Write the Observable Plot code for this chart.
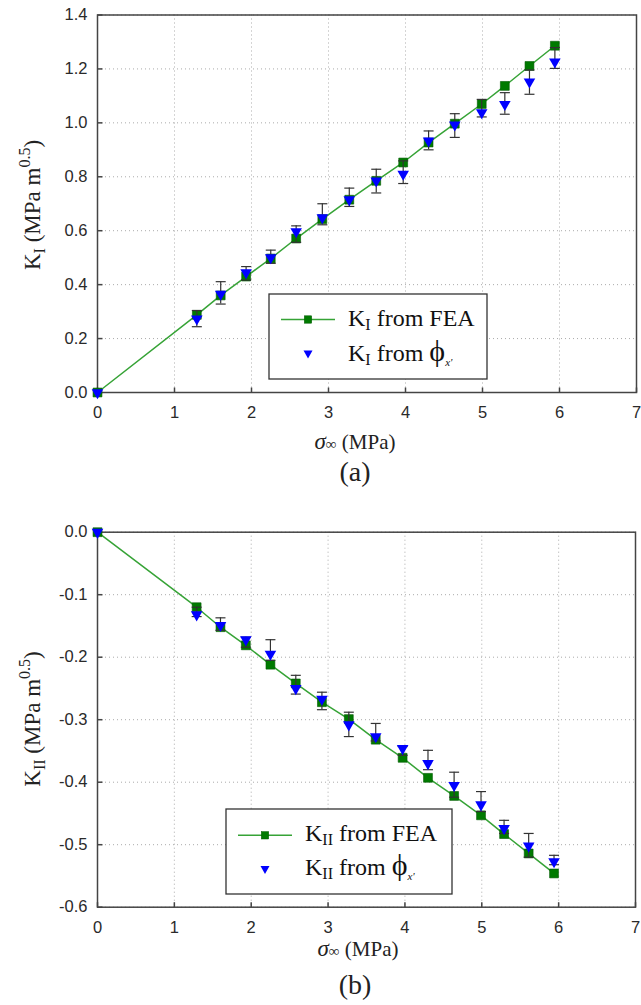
<!DOCTYPE html>
<html><head><meta charset="utf-8">
<script src="https://cdn.jsdelivr.net/npm/d3@7"></script>
<script src="https://cdn.jsdelivr.net/npm/@observablehq/plot@0.6"></script>
<style>body{margin:0;background:#fff} svg{display:block}</style>
</head><body><div id="chart"></div>
<script>
const sigma = [0, 1.29, 1.60, 1.93, 2.25, 2.58, 2.92, 3.27, 3.62, 3.97, 4.30, 4.64, 4.99, 5.29, 5.61, 5.94];
const kIFea = [0, 0.288, 0.36, 0.43, 0.497, 0.571, 0.643, 0.715, 0.785, 0.853, 0.927, 0.997, 1.07, 1.137, 1.211, 1.286];
const kIPhi = [0, 0.273, 0.365, 0.445, 0.50, 0.597, 0.649, 0.715, 0.785, 0.81, 0.933, 0.993, 1.038, 1.069, 1.152, 1.226];
const kIPhiLo = [null, 0.244, 0.328, 0.417, 0.479, 0.557, 0.622, 0.69, 0.74, 0.775, 0.9, 0.946, 1.022, 1.032, 1.106, 1.202];
const kIPhiHi = [null, 0.304, 0.411, 0.467, 0.528, 0.618, 0.70, 0.758, 0.828, 0.859, 0.970, 1.034, 1.087, 1.112, 1.196, 1.279];
const kIIFea = [0, -0.12, -0.152, -0.181, -0.212, -0.242, -0.272, -0.299, -0.332, -0.361, -0.393, -0.422, -0.453, -0.483, -0.514, -0.546];
const kIIPhi = [0, -0.132, -0.149, -0.172, -0.195, -0.25, -0.267, -0.308, -0.327, -0.346, -0.37, -0.405, -0.436, -0.474, -0.502, -0.527];
const kIIPhiLo = [null, -0.135, -0.157, -0.184, -0.205, -0.259, -0.284, -0.327, -0.334, -0.357, -0.38, -0.424, -0.447, -0.482, -0.52, -0.532];
const kIIPhiHi = [null, -0.12, -0.137, -0.168, -0.172, -0.229, -0.256, -0.288, -0.306, -0.343, -0.349, -0.384, -0.415, -0.461, -0.482, -0.517];
const xTicks = [0, 1, 2, 3, 4, 5, 6, 7];
const yTicksA = [0, 0.2, 0.4, 0.6, 0.8, 1.0, 1.2, 1.4];
const yTicksB = [-0.6, -0.5, -0.4, -0.3, -0.2, -0.1, 0];

const SERIF = "'Times New Roman', 'Liberation Serif', serif";
const SANS = "Arial, 'Liberation Sans', sans-serif";
const vtick = {draw(c){ c.moveTo(0,0); c.lineTo(0,-5); }};
const htick = {draw(c){ c.moveTo(0,0); c.lineTo(5,0); }};
const cap = {draw(c){ c.moveTo(-5,0); c.lineTo(5,0); }};

function panel(o) {
  const data = sigma.map((s, i) => ({s, fea: o.fea[i], phi: o.phi[i], lo: o.lo[i], hi: o.hi[i]}));
  const err = data.filter(d => d.lo != null);
  return Plot.plot({
    width: 641, height: o.height,
    marginTop: o.marginTop, marginBottom: o.marginBottom, marginLeft: 97, marginRight: o.marginRight,
    style: {fontFamily: SANS, fontSize: "16.5px", color: "#2a2a2a", background: "#fff"},
    x: {domain: [0, 7]},
    y: {domain: o.yDomain},
    marks: [
      Plot.gridX(xTicks, {stroke: "#aaa", strokeOpacity: 1, strokeDasharray: "1,3"}),
      Plot.gridY(o.yTicks, {stroke: "#aaa", strokeOpacity: 1, strokeDasharray: "1,3"}),
      Plot.dot(xTicks, {x: d => d, frameAnchor: "bottom", symbol: vtick, stroke: "#444", fill: "none"}),
      Plot.dot(o.yTicks, {y: d => d, frameAnchor: "left", symbol: htick, stroke: "#444", fill: "none"}),
      Plot.frame({stroke: "#444", strokeWidth: 1.5}),
      Plot.axisX(xTicks, {tickSize: 0, tickPadding: 14, label: null, tickFormat: d => String(d)}),
      Plot.axisY(o.yTicks, {tickSize: 0, tickPadding: 10, label: null, tickFormat: d => d.toFixed(1)}),
      Plot.line(data, {x: "s", y: "fea", stroke: "#36a336", strokeWidth: 1.5}),
      Plot.dot(data, {x: "s", y: "fea", symbol: "square", r: 5, fill: "#007a00", stroke: "#005a00", strokeWidth: 0.6}),
      Plot.ruleX(err, {x: "s", y1: "lo", y2: "hi", stroke: "#333", strokeWidth: 1.2}),
      Plot.dot(err, {x: "s", y: "lo", symbol: cap, stroke: "#333", strokeWidth: 1.2, fill: "none"}),
      Plot.dot(err, {x: "s", y: "hi", symbol: cap, stroke: "#333", strokeWidth: 1.2, fill: "none"}),
      Plot.dot(data, {x: "s", y: "phi", symbol: "triangle", rotate: 180, r: 4.3, fill: "#0000ff", stroke: "none"})
    ]
  });
}

function annotate(svg, a) {
  const s = d3.select(svg);
  // y label
  const yl = s.append("text").attr("transform", `translate(40,${a.yMid}) rotate(-90)`)
    .attr("text-anchor", "middle").attr("font-family", SERIF).attr("font-size", 23).attr("fill", "#222");
  yl.append("tspan").text("K");
  yl.append("tspan").attr("font-size", 16).attr("dy", 5).text(a.sub);
  yl.append("tspan").attr("dy", -5).text(" (MPa m");
  yl.append("tspan").attr("font-size", 16).attr("dy", -10).text("0.5");
  yl.append("tspan").attr("dy", 10).text(")");
  // x label
  const xl = s.append("text").attr("x", a.xMid).attr("y", a.xBase).attr("text-anchor", "middle")
    .attr("font-family", SERIF).attr("font-size", 21).attr("fill", "#222");
  xl.append("tspan").attr("font-style", "italic").attr("font-size", 23).text("σ");
  xl.append("tspan").attr("font-style", "italic").attr("font-size", 15).text("∞");
  xl.append("tspan").text(" (MPa)");
  // panel tag
  s.append("text").attr("x", 355).attr("y", a.tagBase).attr("text-anchor", "middle")
    .attr("font-family", SERIF).attr("font-size", 28).attr("fill", "#222").text(a.tag);
  // legend
  const L = a.leg;
  s.append("rect").attr("x", L.x0).attr("y", L.y0).attr("width", L.x1 - L.x0).attr("height", L.y1 - L.y0)
    .attr("fill", "#fff").attr("stroke", "#333").attr("stroke-width", 1.3);
  s.append("line").attr("x1", L.x0 + 12).attr("x2", L.x0 + 66).attr("y1", L.r1).attr("y2", L.r1)
    .attr("stroke", "#36a336").attr("stroke-width", 1.5);
  s.append("rect").attr("x", L.x0 + 39 - 3.7).attr("y", L.r1 - 3.7).attr("width", 7.4).attr("height", 7.4)
    .attr("fill", "#007a00").attr("stroke", "#005a00").attr("stroke-width", 0.5);
  const tx = L.x0 + 39, ty = L.r2;
  s.append("path").attr("d", `M${tx - 4.5},${ty - 4}L${tx + 4.5},${ty - 4}L${tx},${ty + 4}Z`).attr("fill", "#0000ff");
  const t1 = s.append("text").attr("x", L.x0 + 79).attr("y", L.b1).attr("text-anchor", "start")
    .attr("font-family", SERIF).attr("font-size", 24).attr("fill", "#111");
  t1.append("tspan").text("K");
  t1.append("tspan").attr("font-size", 16).attr("dy", 4).text(a.sub);
  t1.append("tspan").attr("dy", -4).text(" from FEA");
  const t2 = s.append("text").attr("x", L.x0 + 79).attr("y", L.b2).attr("text-anchor", "start")
    .attr("font-family", SERIF).attr("font-size", 24).attr("fill", "#111");
  t2.append("tspan").text("K");
  t2.append("tspan").attr("font-size", 16).attr("dy", 4).text(a.sub);
  t2.append("tspan").attr("dy", -4).text(" from ");
  t2.append("tspan").attr("font-size", 30).text("ϕ");
  t2.append("tspan").attr("font-size", 11).attr("font-style", "italic").attr("dy", 5).text("x'");
}

const root = document.getElementById("chart");
const a = panel({fea: kIFea, phi: kIPhi, lo: kIPhiLo, hi: kIPhiHi, yDomain: [0, 1.4], yTicks: yTicksA,
  height: 490, marginTop: 14.5, marginBottom: 98, marginRight: 5});
annotate(a, {sub: "I", yMid: 205, xMid: 355, xBase: 449, tag: "(a)", tagBase: 481,
  leg: {x0: 269, y0: 294, x1: 487, y1: 379, r1: 319.5, r2: 354.5, b1: 326, b2: 361}});
root.appendChild(a);
const b = panel({fea: kIIFea, phi: kIIPhi, lo: kIIPhiLo, hi: kIIPhiHi, yDomain: [-0.6, 0], yTicks: yTicksB,
  height: 515, marginTop: 41.7, marginBottom: 98.3, marginRight: 6});
annotate(b, {sub: "II", yMid: 719 - 490, xMid: 358, xBase: 956 - 490, tag: "(b)", tagBase: 994 - 490,
  leg: {x0: 226, y0: 809 - 490, x1: 452, y1: 894 - 490, r1: 835.3 - 490, r2: 870 - 490, b1: 841 - 490, b2: 875 - 490}});
root.appendChild(b);
</script>
</body></html>
